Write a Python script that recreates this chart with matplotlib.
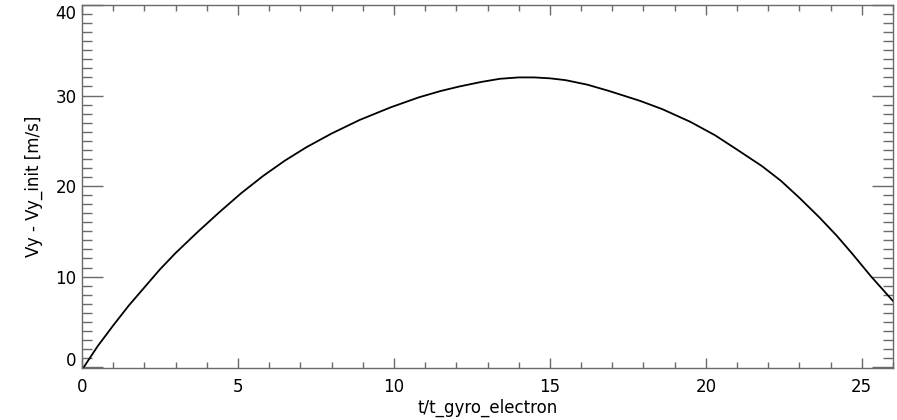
import matplotlib
matplotlib.use("Agg")
import matplotlib.pyplot as plt
from matplotlib.ticker import MultipleLocator, FuncFormatter

# values
t_norm = [0.0, 0.5, 1.0, 1.5, 2.0, 2.5, 3.0, 3.7, 4.4, 5.1, 5.8, 6.5, 7.2, 8.0,
          8.9, 9.9, 10.8, 11.5, 12.1, 12.8, 13.4, 14.0, 14.5, 15.0, 15.5,
          16.2, 16.9, 17.9, 18.6, 19.5, 20.3, 21.1, 21.8, 22.4, 23.0, 23.65,
          24.2, 24.7, 25.3, 26.0]
dvy = [-0.3, 2.3, 4.6, 6.8, 8.8, 10.8, 12.6, 14.9, 17.1, 19.2, 21.1, 22.8,
       24.3, 25.8, 27.3, 28.7, 29.8, 30.5, 31.0, 31.5, 31.85, 32.0, 32.0,
       31.9, 31.7, 31.2, 30.5, 29.4, 28.5, 27.1, 25.6, 23.8, 22.2, 20.6,
       18.7, 16.5, 14.5, 12.5, 10.0, 7.3]

xlim = (0, 26)
ylim = (-0.1, 40)
xlabel = "t/t_gyro_electron"
ylabel = "Vy - Vy_init [m/s]"
fs = 12

plt.rcParams["font.family"] = ["DejaVu Sans"]

fig = plt.figure(figsize=(8.97, 4.2), dpi=100)
ax = fig.add_axes([82 / 897, 1 - 368 / 420, (893 - 82) / 897, (368 - 5) / 420])

ax.plot(t_norm, dvy, color="black", linewidth=1.3)

ax.set_xlim(*xlim)
ax.set_ylim(*ylim)
ax.xaxis.set_major_locator(MultipleLocator(5))
ax.xaxis.set_minor_locator(MultipleLocator(1))
ax.yaxis.set_major_locator(MultipleLocator(10))
ax.yaxis.set_minor_locator(MultipleLocator(1))

axis_col = "#6a6a6a"
for s in ax.spines.values():
    s.set_color(axis_col)
    s.set_linewidth(1.0)

ax.tick_params(axis="x", which="major", direction="in", length=7.5, width=1.0,
               color=axis_col, top=True, bottom=True, labelsize=fs, pad=7)
ax.tick_params(axis="x", which="minor", direction="in", length=4, width=1.0,
               color=axis_col, top=True, bottom=True)
ax.tick_params(axis="y", which="major", direction="in", length=15, width=1.0,
               color=axis_col, left=True, right=True, labelsize=fs, pad=4)
ax.tick_params(axis="y", which="minor", direction="in", length=7.5, width=1.0,
               color=axis_col, left=True, right=True)

# IDL nudges the end labels of the y axis inward, so draw those two by hand
ends = {0: 6, 40: -9}
ax.yaxis.set_major_formatter(FuncFormatter(
    lambda v, p: "" if round(v) in ends else f"{v:g}"))
for val, dy in ends.items():
    ax.annotate(f"{val}", xy=(0, val), xycoords=("axes fraction", "data"),
                xytext=(-4, dy * 0.72), textcoords="offset points",
                ha="right", va="center", fontsize=fs)

ax.set_xlabel(xlabel, fontsize=fs, labelpad=2)
ax.set_ylabel(ylabel, fontsize=fs, labelpad=9)

fig.savefig("out.png", dpi=100)
